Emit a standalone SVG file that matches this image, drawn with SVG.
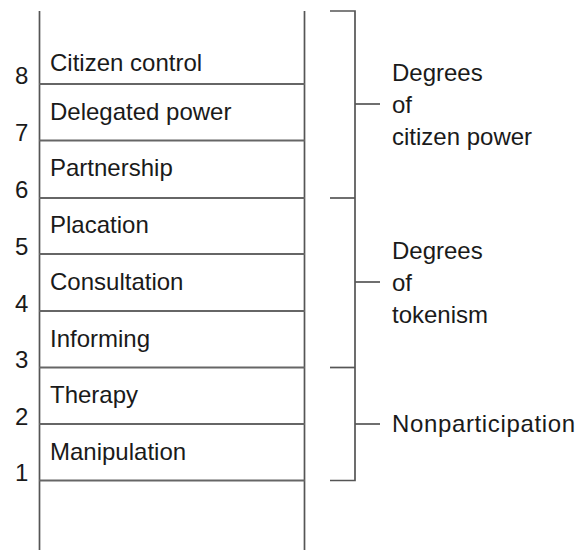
<svg xmlns="http://www.w3.org/2000/svg" width="579" height="550" viewBox="0 0 579 550">
<style>
text{font-family:"Liberation Sans",Arial,sans-serif;font-size:24px;fill:#1a1a1a}
.ln{stroke:#555;stroke-width:1.7;fill:none}
.rung{stroke:#666;stroke-width:2}
</style>
<rect width="579" height="550" fill="#fff"/>
<g id="rails">
<line class="ln" x1="39.5" y1="11" x2="39.5" y2="550"/>
<line class="ln" x1="304.5" y1="11" x2="304.5" y2="550"/>
</g>
<g id="rung8"><text x="15" y="84">8</text><text x="50" y="71">Citizen control</text><line class="rung" x1="39" y1="84" x2="305" y2="84"/></g>
<g id="rung7"><text x="15" y="141">7</text><text x="50" y="120">Delegated power</text><line class="rung" x1="39" y1="140.5" x2="305" y2="140.5"/></g>
<g id="rung6"><text x="15" y="198">6</text><text x="50" y="176">Partnership</text><line class="rung" x1="39" y1="198" x2="305" y2="198"/></g>
<g id="rung5"><text x="15" y="255">5</text><text x="50" y="233">Placation</text><line class="rung" x1="39" y1="254" x2="305" y2="254"/></g>
<g id="rung4"><text x="15" y="312">4</text><text x="50" y="290">Consultation</text><line class="rung" x1="39" y1="311" x2="305" y2="311"/></g>
<g id="rung3"><text x="15" y="368">3</text><text x="50" y="347">Informing</text><line class="rung" x1="39" y1="367.5" x2="305" y2="367.5"/></g>
<g id="rung2"><text x="15" y="425">2</text><text x="50" y="403">Therapy</text><line class="rung" x1="39" y1="424" x2="305" y2="424"/></g>
<g id="rung1"><text x="15" y="481">1</text><text x="50" y="460">Manipulation</text><line class="rung" x1="39" y1="480.5" x2="305" y2="480.5"/></g>
<g id="connectors">
<path class="ln" d="M330 11H355V480.5H330"/>
<line class="ln" x1="330" y1="198" x2="355" y2="198"/>
<line class="ln" x1="330" y1="367.5" x2="355" y2="367.5"/>
<line class="ln" x1="355" y1="104" x2="380" y2="104"/>
<line class="ln" x1="355" y1="282" x2="380" y2="282"/>
<line class="ln" x1="355" y1="424" x2="380" y2="424"/>
</g>
<g id="citizen-power"><text x="392" y="81">Degrees</text><text x="392" y="113">of</text><text x="392" y="145">citizen power</text></g>
<g id="tokenism"><text x="392" y="259">Degrees</text><text x="392" y="291">of</text><text x="392" y="323">tokenism</text></g>
<g id="nonparticipation"><text x="392" y="432" textLength="183" lengthAdjust="spacing">Nonparticipation</text></g>
</svg>
